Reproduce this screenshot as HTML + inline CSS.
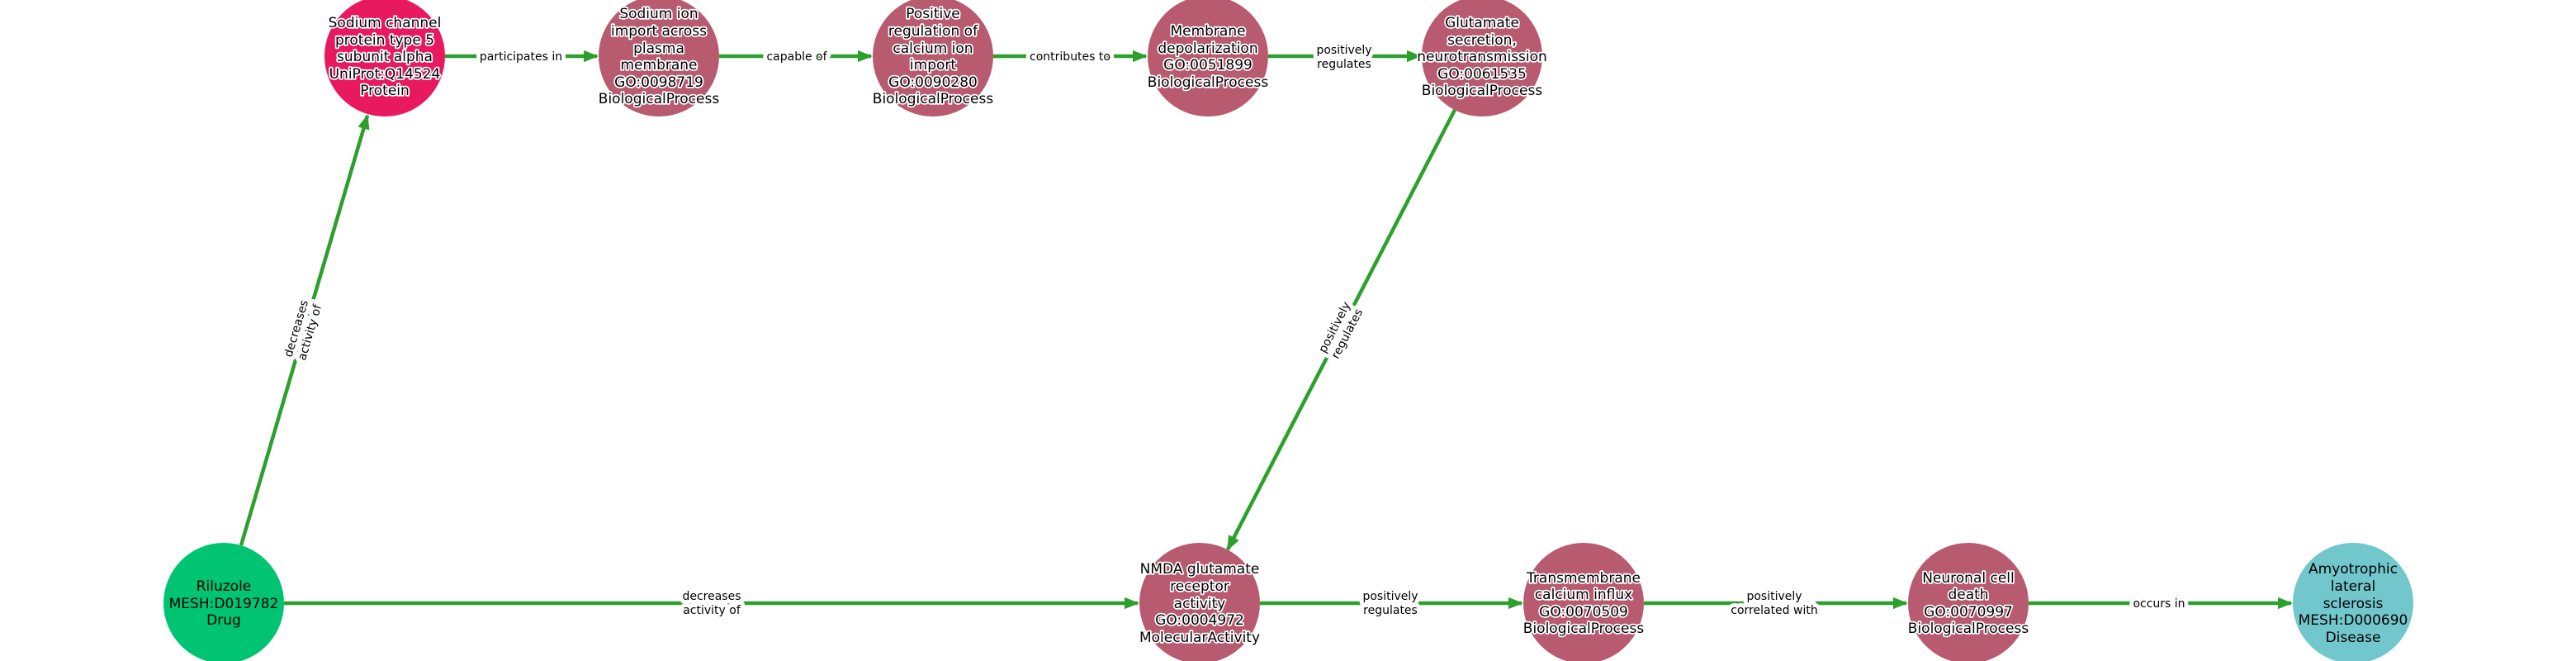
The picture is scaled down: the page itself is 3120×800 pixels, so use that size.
<!DOCTYPE html>
<html><head><meta charset="utf-8"><style>
html,body{margin:0;padding:0;background:#fff;}
svg{display:block;}
.n{font-family:"DejaVu Sans","Liberation Sans",sans-serif;font-size:17px;text-anchor:middle;fill:#000;}
.h{stroke:#fff;stroke-width:3.5px;paint-order:stroke;stroke-linejoin:round;}
.e{font-family:"DejaVu Sans","Liberation Sans",sans-serif;font-size:14px;text-anchor:middle;fill:#000;stroke:#fff;stroke-width:10px;paint-order:stroke;stroke-linejoin:round;}
line{stroke:#2ca02c;stroke-width:4.5;}
</style></head><body>
<svg width="3120" height="800" viewBox="0 0 3120 800" xmlns="http://www.w3.org/2000/svg">
<defs><marker id="a" viewBox="0 0 10 10" refX="9" refY="5" markerWidth="4" markerHeight="4" orient="auto" markerUnits="strokeWidth"><path d="M0,1 L10,5 L0,9 z" fill="#2ca02c"/></marker></defs>
<!-- edges -->
<line x1="292" y1="660" x2="445" y2="140" marker-end="url(#a)"/>
<line x1="539" y1="68" x2="723" y2="68" marker-end="url(#a)"/>
<line x1="871" y1="68" x2="1055" y2="68" marker-end="url(#a)"/>
<line x1="1203" y1="68" x2="1388" y2="68" marker-end="url(#a)"/>
<line x1="1536" y1="68" x2="1720" y2="68" marker-end="url(#a)"/>
<line x1="1762" y1="133" x2="1487" y2="665" marker-end="url(#a)"/>
<line x1="344" y1="730" x2="1378" y2="730" marker-end="url(#a)"/>
<line x1="1526" y1="730" x2="1843" y2="730" marker-end="url(#a)"/>
<line x1="1991" y1="730" x2="2309" y2="730" marker-end="url(#a)"/>
<line x1="2457" y1="730" x2="2775" y2="730" marker-end="url(#a)"/>
<!-- edge labels -->
<text class="e" x="631" y="73">participates in</text>
<text class="e" x="965" y="73">capable of</text>
<text class="e" x="1296" y="73">contributes to</text>
<text class="e" x="1628" y="65">positively</text><text class="e" x="1628" y="82">regulates</text>
<g transform="translate(367,400) rotate(-73.6)"><text class="e" x="0" y="-4">decreases</text><text class="e" x="0" y="13">activity of</text></g>
<g transform="translate(1624,400) rotate(-62.7)"><text class="e" x="0" y="-4">positively</text><text class="e" x="0" y="13">regulates</text></g>
<text class="e" x="862" y="726">decreases</text><text class="e" x="862" y="743">activity of</text>
<text class="e" x="1684" y="726">positively</text><text class="e" x="1684" y="743">regulates</text>
<text class="e" x="2149" y="726">positively</text><text class="e" x="2149" y="743">correlated with</text>
<text class="e" x="2615" y="735">occurs in</text>
<!-- nodes -->
<circle cx="271" cy="730" r="73" fill="#00c471"/>
<text class="n" x="271" y="715">Riluzole</text><text class="n" x="271" y="736">MESH:D019782</text><text class="n" x="271" y="756">Drug</text>
<circle cx="466" cy="68" r="73" fill="#e8195f"/>
<g class="n h"><text x="466" y="33">Sodium channel</text><text x="466" y="54">protein type 5</text><text x="466" y="74">subunit alpha</text><text x="466" y="95">UniProt:Q14524</text><text x="466" y="115">Protein</text></g>
<circle cx="798" cy="68" r="73" fill="#b85a70"/>
<g class="n h"><text x="798" y="22">Sodium ion</text><text x="798" y="43">import across</text><text x="798" y="64">plasma</text><text x="798" y="84">membrane</text><text x="798" y="105">GO:0098719</text><text x="798" y="125">BiologicalProcess</text></g>
<circle cx="1130" cy="68" r="73" fill="#b85a70"/>
<g class="n h"><text x="1130" y="22">Positive</text><text x="1130" y="43">regulation of</text><text x="1130" y="64">calcium ion</text><text x="1130" y="84">import</text><text x="1130" y="105">GO:0090280</text><text x="1130" y="125">BiologicalProcess</text></g>
<circle cx="1463" cy="68" r="73" fill="#b85a70"/>
<g class="n h"><text x="1463" y="43">Membrane</text><text x="1463" y="64">depolarization</text><text x="1463" y="84">GO:0051899</text><text x="1463" y="105">BiologicalProcess</text></g>
<circle cx="1795" cy="68" r="73" fill="#b85a70"/>
<g class="n h"><text x="1795" y="33">Glutamate</text><text x="1795" y="54">secretion,</text><text x="1795" y="74">neurotransmission</text><text x="1795" y="95">GO:0061535</text><text x="1795" y="115">BiologicalProcess</text></g>
<circle cx="1453" cy="730" r="73" fill="#b85a70"/>
<g class="n h"><text x="1453" y="694">NMDA glutamate</text><text x="1453" y="715">receptor</text><text x="1453" y="736">activity</text><text x="1453" y="756">GO:0004972</text><text x="1453" y="777">MolecularActivity</text></g>
<circle cx="1918" cy="730" r="73" fill="#b85a70"/>
<g class="n h"><text x="1918" y="705">Transmembrane</text><text x="1918" y="725">calcium influx</text><text x="1918" y="746">GO:0070509</text><text x="1918" y="766">BiologicalProcess</text></g>
<circle cx="2384" cy="730" r="73" fill="#b85a70"/>
<g class="n h"><text x="2384" y="705">Neuronal cell</text><text x="2384" y="725">death</text><text x="2384" y="746">GO:0070997</text><text x="2384" y="766">BiologicalProcess</text></g>
<circle cx="2850" cy="730" r="73" fill="#72c7cc"/>
<text class="n" x="2850" y="694">Amyotrophic</text><text class="n" x="2850" y="715">lateral</text><text class="n" x="2850" y="736">sclerosis</text><text class="n" x="2850" y="756">MESH:D000690</text><text class="n" x="2850" y="777">Disease</text>
</svg>
</body></html>
